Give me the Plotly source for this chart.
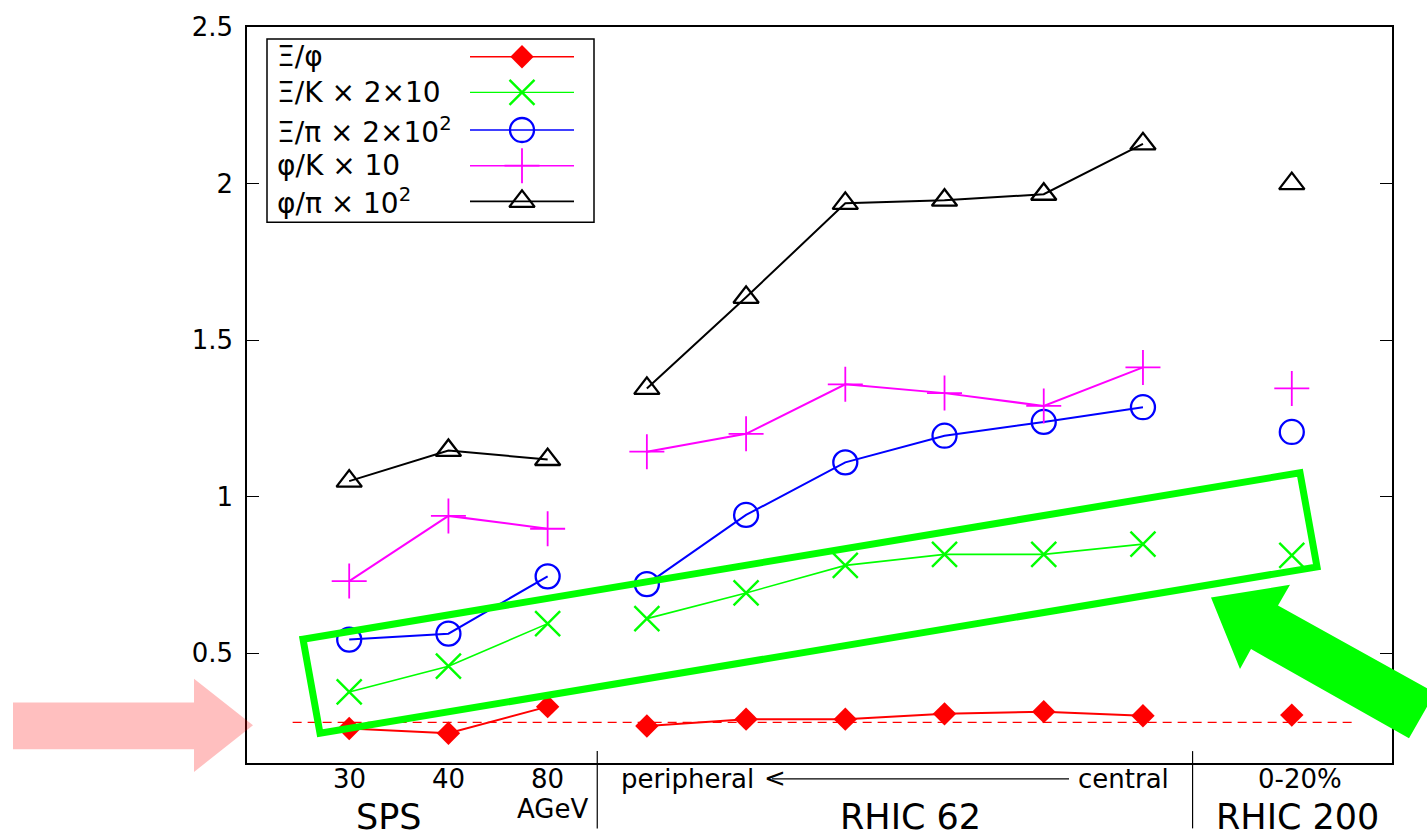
import plotly.graph_objects as go

# ---------------- data ----------------
sps_x = [1, 2, 3]
r62_x = [4, 5, 6, 7, 8, 9]
r200_x = [10.5]

xi_phi_sps = [0.260, 0.245, 0.330]
xi_phi_r62 = [0.268, 0.290, 0.290, 0.307, 0.314, 0.301]
xi_phi_r200 = [0.303]

xi_k_sps = [0.377, 0.459, 0.595]
xi_k_r62 = [0.611, 0.693, 0.781, 0.816, 0.816, 0.849]
xi_k_r200 = [0.813]

xi_pi_sps = [0.544, 0.563, 0.746]
xi_pi_r62 = [0.721, 0.942, 1.110, 1.195, 1.239, 1.286]
xi_pi_r200 = [1.207]

phi_k_sps = [0.731, 0.939, 0.898]
phi_k_r62 = [1.144, 1.201, 1.359, 1.331, 1.290, 1.413]
phi_k_r200 = [1.346]

phi_pi_sps = [1.050, 1.148, 1.119]
phi_pi_r62 = [1.346, 1.637, 1.937, 1.947, 1.966, 2.127]
phi_pi_r200 = [2.000]

ref_level = 0.28

energy_labels = ["30", "40", "80"]
legend_labels = ["Ξ/φ", "Ξ/K × 2×10", "Ξ/π × 2×10<sup>2</sup>", "φ/K × 10", "φ/π × 10<sup>2</sup>"]
y_ticks = [0.5, 1, 1.5, 2, 2.5]
y_ticktext = ["0.5", "1", "1.5", "2", "2.5"]

# ---------------- layout geometry ----------------
FW, FH = 1427, 839
L, R, T, B = 247, 1392, 20, 763
W, H = R - L, B - T


def PX(x):
    return (x - L) / W


def PY(y):
    return (B - y) / H


FONT = "DejaVu Sans"

series = [
    dict(name=legend_labels[0], data=(xi_phi_sps, xi_phi_r62, xi_phi_r200), color="#ff0000",
         symbol="diamond", size=18, lw=2, mlw=0),
    dict(name=legend_labels[1], data=(xi_k_sps, xi_k_r62, xi_k_r200), color="#00ff00",
         symbol="x-thin-open", size=25, lw=1.6, mlw=2.4),
    dict(name=legend_labels[2], data=(xi_pi_sps, xi_pi_r62, xi_pi_r200), color="#0000ff",
         symbol="circle-open", size=24, lw=2, mlw=2.3),
    dict(name=legend_labels[3], data=(phi_k_sps, phi_k_r62, phi_k_r200), color="#ff00ff",
         symbol="cross-thin-open", size=25, lw=2, mlw=1.8),
    dict(name=legend_labels[4], data=(phi_pi_sps, phi_pi_r62, phi_pi_r200), color="#000000",
         symbol="triangle-up-open", size=22, lw=2, mlw=2.3),
]

fig = go.Figure()

for s in series:
    for xs, ys in zip((sps_x, r62_x, r200_x), s["data"]):
        marker = dict(symbol=s["symbol"], size=s["size"], color=s["color"],
                      line=dict(color=s["color"], width=s["mlw"]))
        fig.add_trace(go.Scatter(
            x=xs, y=ys, mode="lines+markers",
            line=dict(color=s["color"], width=s["lw"]),
            marker=marker, showlegend=False, cliponaxis=False, hoverinfo="skip"))

# legend (manual, gnuplot style: text left, sample right)
leg_rows = [50, 86, 124, 160, 196]
shapes = []
annotations = []
for s, yr in zip(series, leg_rows):
    annotations.append(dict(xref="paper", yref="paper", x=PX(275), y=PY(yr), text=s["name"],
                            showarrow=False, xanchor="left", yanchor="middle",
                            font=dict(family=FONT, size=28, color="black")))
    shapes.append(dict(type="line", xref="paper", yref="paper", x0=PX(470), x1=PX(574),
                       y0=PY(yr), y1=PY(yr), line=dict(color=s["color"], width=s["lw"] * 0.8),
                       layer="below"))
    fig.add_trace(go.Scatter(
        x=[PX(522)], y=[PY(yr)], xaxis="x2", yaxis="y2", mode="markers",
        marker=dict(symbol=s["symbol"], size=s["size"], color=s["color"],
                    line=dict(color=s["color"], width=s["mlw"])),
        showlegend=False, hoverinfo="skip"))

shapes.append(dict(type="rect", xref="paper", yref="paper", x0=PX(267), x1=PX(594),
                   y0=PY(32), y1=PY(217), line=dict(color="black", width=1.5)))

# reference dashed line
shapes.append(dict(type="line", xref="x", yref="y", x0=0.43, x1=11.15, y0=ref_level, y1=ref_level,
                   line=dict(color="#ff0000", width=1.3, dash="9px,6px"), layer="below"))

# group dividers below the axis
for xd in (3.5, 9.5):
    shapes.append(dict(type="line", xref="x", yref="paper", x0=xd, x1=xd, y0=PY(751), y1=PY(829),
                       line=dict(color="black", width=1.2)))

# centrality arrow line
shapes.append(dict(type="line", xref="paper", yref="paper", x0=PX(772), x1=PX(1069),
                   y0=PY(779), y1=PY(779), line=dict(color="black", width=1.3)))

# highlighting green box
box = [(303, 638), (1300, 470), (1317, 565), (320, 733)]
path = "M " + " L ".join(f"{PX(x):.5f},{PY(y):.5f}" for x, y in box) + " Z"
shapes.append(dict(type="path", xref="paper", yref="paper", path=path,
                   line=dict(color="#00ff00", width=7), layer="above"))

# pink arrow
pink = [(13, 702), (194, 702), (194, 678), (253, 725), (194, 772), (194, 749), (13, 749)]
path = "M " + " L ".join(f"{PX(x):.5f},{PY(y):.5f}" for x, y in pink) + " Z"
shapes.append(dict(type="path", xref="paper", yref="paper", path=path,
                   fillcolor="rgba(255,0,0,0.25)", line=dict(width=0), layer="above"))

# green arrow
garrow = [(1211, 596), (1290, 583), (1278, 604), (1435, 692), (1409, 738), (1251, 648), (1240, 668)]
path = "M " + " L ".join(f"{PX(x):.5f},{PY(y):.5f}" for x, y in garrow) + " Z"
shapes.append(dict(type="path", xref="paper", yref="paper", path=path,
                   fillcolor="#00ff00", line=dict(width=0), layer="above"))

# x labels
for xv, lab in zip(sps_x, energy_labels):
    annotations.append(dict(xref="x", yref="paper", x=xv, y=PY(779), text=lab, showarrow=False,
                            xanchor="center", yanchor="middle",
                            font=dict(family=FONT, size=26, color="black")))
txt = [
    ("AGeV", PX(552), 809, 26),
    ("peripheral", PX(687), 779, 26),
    ("&lt;", PX(775), 778, 26),
    ("central", PX(1123), 779, 26),
    ("0-20%", PX(1300), 779, 26),
    ("SPS", PX(389), 818, 35),
    ("RHIC 62", PX(910), 818, 35),
    ("RHIC 200", PX(1297), 818, 35),
]
for t, xp, yp, fs in txt:
    annotations.append(dict(xref="paper", yref="paper", x=xp, y=PY(yp), text=t, showarrow=False,
                            xanchor="center", yanchor="middle",
                            font=dict(family=FONT, size=fs, color="black")))

fig.update_layout(
    width=FW, height=FH,
    margin=dict(l=L, r=FW - R, t=T, b=FH - B, pad=0),
    paper_bgcolor="white", plot_bgcolor="white",
    showlegend=False,
    xaxis=dict(range=[-0.03, 11.51], showline=True, linecolor="black", linewidth=1.5,
               mirror=True, ticks="", showticklabels=False, showgrid=False, zeroline=False),
    yaxis=dict(range=[0.15, 2.5], tickvals=y_ticks, ticktext=y_ticktext, ticks="inside",
               ticklen=12, tickwidth=1.2, tickcolor="black", showline=True, linecolor="black",
               linewidth=1.5, mirror="ticks", showgrid=False, zeroline=False,
               ticklabelstandoff=7, tickfont=dict(family=FONT, size=26, color="black")),
    xaxis2=dict(overlaying="x", range=[0, 1], visible=False, fixedrange=True),
    yaxis2=dict(overlaying="y", range=[0, 1], visible=False, fixedrange=True),
    shapes=shapes,
    annotations=annotations,
)

fig.write_html("out.html")
